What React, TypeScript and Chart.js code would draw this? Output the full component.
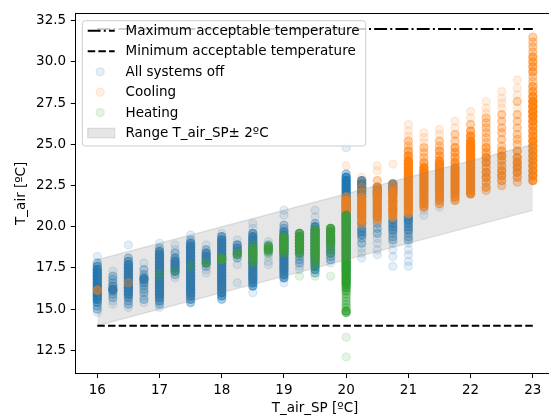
import React, { useEffect, useRef } from "react";
import { Chart, registerables } from "chart.js";

Chart.register(...registerables);

// ---------------- data ----------------
const setpoints = [16, 16.25, 16.5, 16.75, 17, 17.25, 17.5, 17.75, 18, 18.25, 18.5, 18.75, 19, 19.25, 19.5, 19.75, 20, 20.25, 20.5, 20.75, 21, 21.25, 21.5, 21.75, 22, 22.25, 22.5, 22.75, 23];

// [T_air, number of overlapping records] per setpoint column
type Reading = [number, number];

const offReadings: Reading[][] = [
  [[18.2,1],[17.8,2],[17.6,3],[17.4,5],[17.2,6],[17.0,6],[16.8,6],[16.6,6],[16.4,6],[16.2,6],[16.0,6],[15.8,6],[15.6,5],[15.4,3],[15.2,2],[15.0,2],[14.8,1]],
  [[17.3,1],[17.0,2],[16.8,2],[16.6,2],[16.4,3],[16.2,6],[16.1,3],[15.9,2],[15.7,2],[15.5,1],[15.3,1]],
  [[18.9,1],[18.1,2],[17.9,3],[17.7,5],[17.5,6],[17.3,6],[17.1,6],[16.9,6],[16.7,5],[16.5,5],[16.3,6],[16.1,6],[15.9,5],[15.7,3],[15.5,2],[15.3,2],[15.1,1]],
  [[17.8,1],[17.4,2],[17.1,2],[16.9,3],[16.8,5],[16.6,3],[16.4,2],[16.2,2],[16.0,2],[15.8,1],[15.6,2],[15.4,1]],
  [[19.0,1],[18.7,2],[18.5,4],[18.3,6],[18.1,6],[17.9,6],[17.7,6],[17.5,6],[17.3,6],[17.1,6],[16.9,6],[16.7,6],[16.5,6],[16.3,6],[16.1,6],[15.9,5],[15.7,4],[15.5,3],[15.3,2],[15.1,1]],
  [[18.9,1],[18.6,1],[18.4,2],[18.1,3],[17.9,5],[17.7,6],[17.5,6],[17.3,4],[17.1,2],[16.9,1]],
  [[19.5,1],[19.2,2],[19.0,4],[18.8,6],[18.6,6],[18.4,6],[18.2,6],[18.0,6],[17.8,6],[17.6,6],[17.4,6],[17.2,6],[17.0,6],[16.8,6],[16.6,6],[16.4,6],[16.2,6],[16.0,5],[15.8,4],[15.6,3],[15.4,2]],
  [[18.9,1],[18.6,2],[18.4,4],[18.2,5],[18.0,5],[17.8,4],[17.6,2],[17.4,1],[17.2,1]],
  [[19.6,1],[19.4,3],[19.2,5],[19.0,6],[18.8,6],[18.6,6],[18.4,6],[18.2,6],[18.0,6],[17.8,6],[17.6,6],[17.4,6],[17.2,6],[17.0,6],[16.8,6],[16.6,6],[16.4,5],[16.2,5],[16.0,4],[15.8,3],[15.6,2]],
  [[19.2,1],[18.9,3],[18.7,4],[18.5,4],[18.3,3],[18.1,2],[17.7,1],[16.6,1]],
  [[20.2,1],[19.9,1],[19.6,3],[19.4,5],[19.2,6],[19.0,6],[18.8,6],[18.6,6],[18.4,6],[18.2,6],[18.0,6],[17.8,6],[17.6,6],[17.4,6],[17.2,6],[17.0,6],[16.8,5],[16.6,4],[16.4,3],[16.0,1]],
  [[19.1,1],[18.9,2],[18.7,2],[18.5,2],[18.2,1],[17.9,1],[17.7,1]],
  [[21.0,1],[20.7,1],[20.1,2],[19.9,2],[19.7,4],[19.5,6],[19.3,6],[19.1,6],[18.9,6],[18.7,6],[18.5,6],[18.3,6],[18.1,6],[17.9,6],[17.7,6],[17.5,6],[17.3,5],[17.1,4],[16.9,3],[16.6,1]],
  [[19.6,2],[19.4,3],[19.2,3],[19.0,3],[18.8,3],[18.6,3],[18.4,3],[18.2,2],[18.0,2],[17.8,2],[17.6,1],[17.4,1]],
  [[21.0,1],[20.6,1],[20.2,2],[20.0,4],[19.8,6],[19.6,6],[19.4,6],[19.2,6],[19.0,6],[18.8,6],[18.6,6],[18.4,6],[18.2,6],[18.0,6],[17.8,5],[17.6,4],[17.4,3],[17.2,2]],
  [[19.4,2],[19.2,3],[19.0,3],[18.8,3],[18.6,3],[18.4,3],[18.2,2],[18.0,2],[17.8,1]],
  [[24.8,1],[23.2,2],[23.0,4],[22.8,6],[22.6,6],[22.4,6],[22.2,6],[22.0,6],[21.8,6],[21.6,6],[21.4,6],[21.2,6],[21.0,6],[20.8,6],[20.6,6],[20.4,6],[20.2,6],[20.0,6],[19.8,6],[19.6,5],[19.4,5],[19.2,5],[19.0,5],[18.8,4],[18.6,4],[18.4,4],[18.2,4],[18.0,3],[17.8,3],[17.6,3],[17.4,3],[17.2,2],[17.0,2],[16.8,2],[16.6,2]],
  [[22.8,4],[22.6,5],[22.4,5],[22.2,5],[22.0,4],[21.8,3],[21.4,2],[21.0,2],[20.6,2],[20.2,3],[19.9,3],[19.7,3],[19.5,3],[19.3,2],[19.0,2],[18.7,1],[18.4,1],[18.1,1]],
  [[22.4,3],[22.2,4],[22.0,4],[21.8,3],[21.4,2],[21.0,2],[20.6,2],[20.2,2],[19.9,2],[19.6,2],[19.3,1],[19.0,1],[18.6,1],[18.3,1]],
  [[22.6,4],[22.4,5],[22.2,5],[22.0,3],[21.6,2],[21.0,2],[20.4,3],[20.2,3],[20.0,3],[19.8,3],[19.6,2],[19.4,2],[19.2,2],[19.0,1],[18.6,1],[18.2,1],[17.6,1]],
  [[20.6,4],[20.4,4],[20.2,3],[20.0,3],[19.8,3],[19.6,2],[19.4,2],[19.2,2],[19.0,1],[18.6,1],[18.3,1],[17.9,1],[17.6,1]],
  [[21.0,1],[20.7,1]],
  [[21.2,1]],
  [], [], [], [], [], [],
];

const coolingReadings: Reading[][] = [
  [[16.15,3]],
  [],
  [[16.6,2]],
  [], [], [], [], [], [], [], [], [], [], [], [], [],
  [[23.7,1],[21.8,3],[21.6,5],[21.4,6],[21.2,6],[21.0,6],[20.8,5],[20.6,3]],
  [[23.0,1],[22.7,1],[22.4,2],[22.1,2],[21.8,4],[21.6,6],[21.4,6],[21.2,6],[21.0,6],[20.8,6],[20.6,5],[20.4,4],[20.2,3]],
  [[23.7,1],[23.4,1],[22.8,2],[22.4,3],[22.2,4],[22.0,5],[21.8,6],[21.6,6],[21.4,6],[21.2,6],[21.0,6],[20.8,6],[20.6,4],[20.4,3]],
  [[23.8,1],[22.6,2],[22.4,3],[22.2,4],[22.0,6],[21.8,6],[21.6,6],[21.4,6],[21.2,6],[21.0,6],[20.8,5],[20.6,4]],
  [[26.2,1],[25.8,1],[25.5,1],[25.2,2],[24.9,2],[24.6,3],[24.3,4],[24.0,6],[23.8,6],[23.6,6],[23.4,6],[23.2,6],[23.0,6],[22.8,6],[22.6,6],[22.4,6],[22.2,6],[22.0,6],[21.8,6],[21.6,6],[21.4,6],[21.2,6],[21.0,5],[20.8,4]],
  [[25.7,1],[25.4,1],[25.1,1],[24.8,2],[24.5,2],[24.2,2],[23.9,3],[23.6,5],[23.4,6],[23.2,6],[23.0,6],[22.8,6],[22.6,6],[22.4,6],[22.2,6],[22.0,6],[21.8,6],[21.6,5],[21.4,5],[21.2,4]],
  [[25.9,1],[25.6,1],[25.2,2],[24.9,2],[24.6,3],[24.3,3],[24.0,4],[23.8,6],[23.6,6],[23.4,6],[23.2,6],[23.0,6],[22.8,6],[22.6,6],[22.4,6],[22.2,6],[22.0,5],[21.8,5],[21.6,4],[21.4,3]],
  [[26.4,1],[26.0,1],[25.6,2],[25.2,2],[24.8,3],[24.5,3],[24.2,3],[23.9,4],[23.6,5],[23.4,6],[23.2,6],[23.0,6],[22.8,6],[22.6,6],[22.4,6],[22.2,6],[22.0,5],[21.8,4],[21.6,3]],
  [[27.0,1],[26.6,1],[26.2,2],[25.8,3],[25.5,4],[25.2,5],[25.0,6],[24.8,6],[24.6,6],[24.4,6],[24.2,6],[24.0,6],[23.8,6],[23.6,6],[23.4,6],[23.2,6],[23.0,6],[22.8,6],[22.6,6],[22.4,6],[22.2,6],[22.0,5]],
  [[27.6,1],[27.2,1],[26.9,1],[26.6,2],[26.3,2],[26.0,2],[25.7,2],[25.4,2],[25.1,2],[24.8,3],[24.5,3],[24.2,4],[23.9,4],[23.6,3],[23.3,4],[23.0,4],[22.7,3],[22.4,3],[22.2,2]],
  [[28.2,1],[27.8,1],[27.5,1],[27.2,1],[26.8,2],[26.4,2],[26.0,2],[25.7,2],[25.3,2],[24.9,2],[24.6,3],[24.3,4],[24.0,3],[23.7,3],[23.4,4],[23.1,4],[22.8,3],[22.5,2]],
  [[28.9,1],[28.4,1],[28.0,1],[27.6,2],[27.2,1],[26.8,2],[26.4,2],[26.0,2],[25.6,2],[25.3,2],[25.0,2],[24.6,3],[24.2,4],[23.9,5],[23.6,5],[23.3,4],[23.0,3],[22.7,2]],
  [[31.5,2],[31.2,2],[30.9,2],[30.6,2],[30.3,3],[30.0,3],[29.7,3],[29.4,3],[29.1,2],[28.8,2],[28.5,3],[28.2,3],[27.9,4],[27.6,6],[27.3,6],[27.0,6],[26.7,6],[26.4,5],[26.1,4],[25.8,4],[25.5,4],[25.2,5],[24.9,5],[24.6,5],[24.3,5],[24.0,5],[23.7,5],[23.4,5],[23.1,5],[22.8,4]],
];

const heatingReadings: Reading[][] = [
  [], [], [], [],
  [[17.1,2]],
  [[17.3,2]],
  [[17.6,2]],
  [[17.8,3]],
  [[18.1,4],[18.0,4]],
  [[18.4,3],[18.3,2]],
  [[18.9,2],[18.7,3],[18.5,5],[18.3,4],[18.1,3],[17.9,2],[17.8,2]],
  [[18.8,4],[18.6,5],[18.4,2]],
  [[19.4,4],[19.2,6],[19.0,6],[18.8,6],[18.6,5],[18.4,3]],
  [[19.6,4],[19.4,6],[19.2,6],[19.0,6],[18.8,6],[18.6,5],[18.4,3],[17.0,1]],
  [[19.8,4],[19.6,6],[19.4,6],[19.2,6],[19.0,6],[18.8,6],[18.6,6],[18.4,5],[18.2,4],[18.0,3],[17.8,2],[17.6,2],[17.0,1]],
  [[19.9,5],[19.7,6],[19.5,6],[19.3,6],[19.1,5],[18.9,3],[18.6,2],[18.4,2],[17.0,1]],
  [[20.7,6],[20.5,6],[20.3,6],[20.1,6],[19.9,6],[19.7,6],[19.5,6],[19.3,6],[19.1,6],[18.9,6],[18.7,6],[18.5,6],[18.3,6],[18.1,6],[17.9,6],[17.7,6],[17.5,6],[17.3,6],[17.1,6],[16.9,6],[16.7,6],[16.5,5],[16.3,4],[16.1,3],[15.9,2],[15.7,2],[15.5,2],[15.3,2],[15.1,2],[14.9,3],[14.8,3],[13.3,1],[12.1,1]],
  [], [], [], [], [], [], [], [], [], [], [], [],
];

const limitX = [16, 23];
const maxTemp = [32, 32];
const minTemp = [14, 14];
const bandX = [16, 23];
const bandLow = [14, 21];
const bandHigh = [18, 25];

const xTicks = [16, 17, 18, 19, 20, 21, 22, 23];
const yTicks = [12.5, 15, 17.5, 20, 22.5, 25, 27.5, 30, 32.5];

const legendLabels = [
  "Maximum acceptable temperature",
  "Minimum acceptable temperature",
  "All systems off",
  "Cooling",
  "Heating",
  "Range T_air_SP± 2ºC",
];
const xTitle = "T_air_SP [ºC]";
const yTitle = "T_air [ºC]";

// ---------------- style ----------------
const FONT = "'DejaVu Sans', sans-serif";
const FS = 13.5;
const BASE_ALPHA = 0.12;
const BLUE = [31, 119, 180];
const ORANGE = [255, 127, 14];
const GREEN = [44, 160, 44];
const MAX_DASH = [12.9, 3.2, 2, 3.2];
const MIN_DASH = [7.5, 3.2];
const R = 4.05;
const EDGE = 1.35;

const rgba = (c: number[], a: number) => `rgba(${c[0]},${c[1]},${c[2]},${a.toFixed(3)})`;

// opacity of a stack of overlapping translucent markers
const stackAlpha = (n: number) => 1 - Math.pow(1 - BASE_ALPHA, Math.pow(n, 1.7));

function buildScatter(readings: Reading[][], rgb: number[]) {
  const points: { x: number; y: number }[] = [];
  const colors: string[] = [];
  readings.forEach((col, i) => {
    col.forEach(([t, n]) => {
      points.push({ x: setpoints[i], y: t });
      colors.push(rgba(rgb, stackAlpha(n)));
    });
  });
  return { points, colors };
}

const decorPlugin = {
  id: "decor",
  afterDraw(chart: any) {
    const ctx: CanvasRenderingContext2D = chart.ctx;
    const a = chart.chartArea;
    ctx.save();
    ctx.strokeStyle = "#000";
    ctx.lineWidth = 1;
    ctx.beginPath();
    const ty = Math.round(a.top) + 0.5;
    ctx.moveTo(a.left, ty);
    ctx.lineTo(a.right, ty);
    const rx = Math.round(a.right) - 0.5;
    ctx.moveTo(rx, a.top);
    ctx.lineTo(rx, a.bottom);
    ctx.stroke();

    ctx.fillStyle = "#000";
    ctx.font = `${FS}px ${FONT}`;
    ctx.textAlign = "center";
    ctx.textBaseline = "middle";
    ctx.fillText(xTitle, (a.left + a.right) / 2, 408);
    ctx.save();
    ctx.translate(21.5, (a.top + a.bottom) / 2);
    ctx.rotate(-Math.PI / 2);
    ctx.fillText(yTitle, 0, 0);
    ctx.restore();

    const L = 82.3, T = 20.7, Rr = 365.7, B = 146;
    ctx.beginPath();
    (ctx as any).roundRect(L, T, Rr - L, B - T, 3);
    ctx.fillStyle = "rgba(255,255,255,0.8)";
    ctx.fill();
    ctx.strokeStyle = "rgb(204,204,204)";
    ctx.lineWidth = 1;
    ctx.stroke();

    const hx0 = 87.7, hx1 = 114.7, tx = 125.5;
    const rowY = (i: number) => 30.8 + i * 20.45;
    ctx.lineWidth = 2;
    ctx.strokeStyle = "#000";
    ctx.lineCap = "butt";
    ctx.setLineDash(MAX_DASH);
    ctx.beginPath();
    ctx.moveTo(hx0, rowY(0));
    ctx.lineTo(hx1, rowY(0));
    ctx.stroke();
    ctx.setLineDash(MIN_DASH);
    ctx.beginPath();
    ctx.moveTo(hx0, rowY(1));
    ctx.lineTo(hx1, rowY(1));
    ctx.stroke();
    ctx.setLineDash([]);
    [BLUE, ORANGE, GREEN].forEach((c, k) => {
      ctx.beginPath();
      ctx.arc((hx0 + hx1) / 2 - 1, rowY(2 + k), R, 0, Math.PI * 2);
      ctx.fillStyle = rgba(c, BASE_ALPHA);
      ctx.strokeStyle = rgba(c, BASE_ALPHA);
      ctx.lineWidth = EDGE;
      ctx.fill();
      ctx.stroke();
    });
    const ph = 0.7 * FS;
    ctx.fillStyle = "rgba(128,128,128,0.2)";
    ctx.strokeStyle = "rgba(128,128,128,0.2)";
    ctx.lineWidth = EDGE;
    ctx.fillRect(hx0, rowY(5) - ph / 2, hx1 - hx0, ph);
    ctx.strokeRect(hx0, rowY(5) - ph / 2, hx1 - hx0, ph);

    ctx.fillStyle = "#000";
    ctx.textAlign = "left";
    ctx.textBaseline = "middle";
    legendLabels.forEach((lab, i) => ctx.fillText(lab, tx, rowY(i) + 0.5));
    ctx.restore();
  },
};

export default function App() {
  const ref = useRef<HTMLCanvasElement | null>(null);

  useEffect(() => {
    if (!ref.current) return;
    const off = buildScatter(offReadings, BLUE);
    const cool = buildScatter(coolingReadings, ORANGE);
    const heat = buildScatter(heatingReadings, GREEN);
    const scatterDs = (label: string, d: any, order: number) => ({
      label,
      data: d.points,
      backgroundColor: d.colors,
      borderColor: d.colors,
      borderWidth: EDGE,
      pointRadius: R,
      pointHoverRadius: R,
      order,
    });
    const zeroPad = (s: any) => {
      s.paddingTop = 0;
      s.paddingBottom = 0;
      s.paddingLeft = 0;
      s.paddingRight = 0;
    };
    const tickFont = { family: FONT, size: FS };

    const chart = new Chart(ref.current, {
      type: "scatter",
      data: {
        datasets: [
          scatterDs(legendLabels[2], off, 5),
          scatterDs(legendLabels[3], cool, 4),
          scatterDs(legendLabels[4], heat, 3),
          {
            type: "line",
            label: legendLabels[5],
            data: bandX.map((x, i) => ({ x, y: bandHigh[i] })),
            borderColor: "rgba(128,128,128,0.2)",
            backgroundColor: "rgba(128,128,128,0.2)",
            borderWidth: EDGE,
            pointRadius: 0,
            fill: "+1",
            tension: 0,
            order: 2,
          },
          {
            type: "line",
            label: "band low",
            data: bandX.map((x, i) => ({ x, y: bandLow[i] })),
            borderColor: "rgba(128,128,128,0.2)",
            backgroundColor: "rgba(128,128,128,0.2)",
            borderWidth: EDGE,
            pointRadius: 0,
            fill: false,
            tension: 0,
            order: 2,
          },
          {
            type: "line",
            label: legendLabels[0],
            data: limitX.map((x, i) => ({ x, y: maxTemp[i] })),
            borderColor: "#000",
            borderWidth: 2,
            borderDash: MAX_DASH,
            pointRadius: 0,
            fill: false,
            order: 1,
          },
          {
            type: "line",
            label: legendLabels[1],
            data: limitX.map((x, i) => ({ x, y: minTemp[i] })),
            borderColor: "#000",
            borderWidth: 2,
            borderDash: MIN_DASH,
            pointRadius: 0,
            fill: false,
            order: 1,
          },
        ] as any,
      },
      options: {
        responsive: false,
        animation: false,
        devicePixelRatio: 1,
        events: [],
        layout: { padding: { top: 13.3, right: 1.3, left: 0, bottom: 0 } },
        plugins: { legend: { display: false }, tooltip: { enabled: false } },
        scales: {
          x: {
            type: "linear",
            min: 15.65,
            max: 23.35,
            afterBuildTicks: (s: any) => {
              s.ticks = xTicks.map((v) => ({ value: v }));
            },
            afterFit: (s: any) => {
              s.height = 43.7;
              zeroPad(s);
            },
            ticks: {
              color: "#000",
              font: tickFont,
              padding: 4.7,
              maxRotation: 0,
              autoSkip: false,
              callback: (v: any) => String(v),
            },
            grid: { display: true, drawOnChartArea: false, drawTicks: true, tickLength: 4.7, tickColor: "#000", tickWidth: 1, color: "#000", lineWidth: 1 },
            border: { display: true, color: "#000", width: 1 },
          },
          y: {
            type: "linear",
            min: 11.11,
            max: 32.95,
            afterBuildTicks: (s: any) => {
              s.ticks = yTicks.map((v) => ({ value: v }));
            },
            afterFit: (s: any) => {
              s.width = 75.5;
              zeroPad(s);
            },
            ticks: {
              color: "#000",
              font: tickFont,
              padding: 4.7,
              autoSkip: false,
              callback: (v: any) => Number(v).toFixed(1),
            },
            grid: { display: true, drawOnChartArea: false, drawTicks: true, tickLength: 4.7, tickColor: "#000", tickWidth: 1, color: "#000", lineWidth: 1 },
            border: { display: true, color: "#000", width: 1 },
          },
        },
      } as any,
      plugins: [decorPlugin],
    });
    return () => chart.destroy();
  }, []);

  return (
    <div style={{ position: "fixed", left: 0, top: 0, width: 549, height: 417, overflow: "hidden", background: "#fff" }}>
      <canvas ref={ref} width={560} height={417} style={{ display: "block", width: 560, height: 417 }} />
    </div>
  );
}
